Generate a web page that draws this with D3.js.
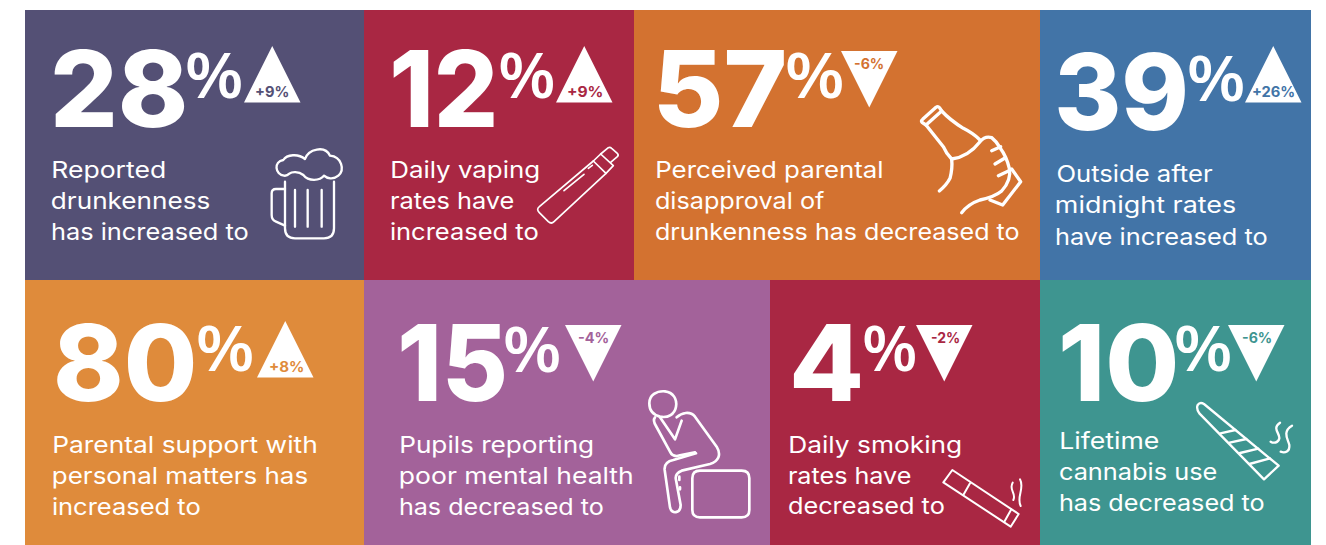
<!DOCTYPE html>
<html>
<head>
<meta charset="utf-8">
<script src="https://cdn.jsdelivr.net/npm/d3@7"></script>
<style>
  html, body { margin: 0; padding: 0; background: #fff; }
  svg { display: block; }
</style>
</head>
<body>
<div id="chart"></div>
<script>
// Values
var rates = [28, 12, 57, 39, 80, 15, 4, 10];
var changes = [9, 9, -6, 26, 8, -4, -2, -6];
var captions = [
  ["Reported", "drunkenness", "has increased to"],
  ["Daily vaping", "rates have", "increased to"],
  ["Perceived parental", "disapproval of", "drunkenness has decreased to"],
  ["Outside after", "midnight rates", "have increased to"],
  ["Parental support with", "personal matters has", "increased to"],
  ["Pupils reporting", "poor mental health", "has decreased to"],
  ["Daily smoking", "rates have", "decreased to"],
  ["Lifetime", "cannabis use", "has decreased to"]
];
var panelColors = ["#545075", "#a92743", "#d37230", "#4274a7", "#df8b3b", "#a3629a", "#a92743", "#3e9590"];

// Layout: each text is fitted to the ink extent measured on the reference
var rowTops = [10, 280, 545];
var rowEdges = [[25, 364, 634, 1040, 1311], [25, 364, 770, 1040, 1311]];
var numberBoxes = [[54, 185, 127], [393, 494, 127], [659, 784, 127], [1058, 1185, 130], [57, 194, 401], [401, 504, 401], [793, 860, 401], [1062, 1176, 401]];
var percentBoxes = [[187, 241, 98], [500, 553, 98], [787, 842, 98], [1189, 1243, 101], [198, 252, 371], [505, 559, 372], [864, 915, 371], [1176, 1230, 371]];
var triangleBoxes = [[244, 46], [556, 46], [841, 51], [1245, 46], [257, 321], [565, 325], [916, 325], [1228, 325]];
var changeBoxes = [[256, 288, 97], [568, 602, 97], [854, 883, 69], [1253, 1294, 97], [270, 303, 372], [578, 608, 343], [931, 959, 343], [1242, 1271, 343]];
var captionLeft = [52, 391, 656, 1056, 53, 400, 789, 1060];
var captionRight = [
  [165, 209, 248], [539, 514, 538], [882, 825, 1019], [1213, 1235, 1267],
  [316, 307, 200], [593, 632, 603], [961, 911, 944], [1159, 1217, 1264]
];
var captionBase = [
  [178, 209, 240], [178, 209, 240], [178, 209, 240], [182, 213, 245],
  [453, 484, 515], [453, 484, 515], [453, 484, 514], [449, 480, 511]
];
var triangleSize = 56.5;

var width = 1326, height = 545;
var svg = d3.select("#chart").append("svg").attr("width", width).attr("height", height);
var color = d3.scaleOrdinal(d3.range(rates.length), panelColors);
var ctx = document.createElement("canvas").getContext("2d");

// Place a text so its ink runs from left to right on the given baseline
function fitText(parent, text, font, left, right, base, fill) {
  ctx.font = font.weight + " " + font.size + "px '" + font.family + "'";
  var m = ctx.measureText(text),
      ink = m.actualBoundingBoxLeft + m.actualBoundingBoxRight,
      sx = (right - left) / ink;
  parent.append("text")
    .attr("transform", "translate(" + (left + m.actualBoundingBoxLeft * sx) + "," + base + ") scale(" + sx + ",1)")
    .attr("font-family", font.family)
    .attr("font-weight", font.weight)
    .attr("font-size", font.size)
    .attr("fill", fill)
    .text(text);
}

var tile = svg.selectAll("g.tile").data(rates).enter().append("g").attr("class", "tile");

tile.append("rect")
  .attr("x", function(d, i) { var r = i < 4 ? 0 : 1; return rowEdges[r][i % 4]; })
  .attr("y", function(d, i) { return rowTops[i < 4 ? 0 : 1]; })
  .attr("width", function(d, i) { var r = i < 4 ? 0 : 1; return rowEdges[r][i % 4 + 1] - rowEdges[r][i % 4]; })
  .attr("height", function(d, i) { var r = i < 4 ? 0 : 1; return rowTops[r + 1] - rowTops[r]; })
  .attr("fill", function(d, i) { return color(i); });

var triLine = d3.line();

tile.each(function(rate, i) {
  var g = d3.select(this), change = changes[i];

  fitText(g, String(rate), {family: "Inter", weight: 800, size: 106}, numberBoxes[i][0], numberBoxes[i][1], numberBoxes[i][2], "#fff");
  fitText(g, "%", {family: "Open Sans", weight: 600, size: 63}, percentBoxes[i][0], percentBoxes[i][1], percentBoxes[i][2], "#fff");

  // triangle points up for a rise, down for a fall
  var tx = d3.scaleLinear().domain([0, 1]).range([triangleBoxes[i][0], triangleBoxes[i][0] + triangleSize]);
  var ty = d3.scaleLinear().domain([0, 1]).range([triangleBoxes[i][1], triangleBoxes[i][1] + triangleSize]);
  var pts = change > 0 ? [[0, 1], [0.5, 0], [1, 1]] : [[0, 0], [1, 0], [0.5, 1]];
  g.append("path")
    .attr("d", triLine(pts.map(function(p) { return [tx(p[0]), ty(p[1])]; })) + "Z")
    .attr("fill", "#fff");

  fitText(g, (change > 0 ? "+" : "") + change + "%", {family: "Inter", weight: 700, size: 14}, changeBoxes[i][0], changeBoxes[i][1], changeBoxes[i][2], color(i));

  captions[i].forEach(function(line, j) {
    // capitals measure a little wider on the left than they draw
    var nudge = /^[A-Z]/.test(line) ? 1.5 : 0;
    fitText(g, line, {family: "Inter", weight: 400, size: 23}, captionLeft[i] + nudge, captionRight[i][j], captionBase[i][j], "#fff");
  });
});

// Pictograms, traced in the 3x crop coordinates
var icons = [
  {x: 20, y: 5, w: 7, d: [
    "M792 512C765 508 760 470 790 465C800 448 835 445 855 462C865 432 915 420 930 452C965 455 975 495 955 512C940 525 920 520 912 512C900 528 865 530 850 510C835 498 815 500 808 506C802 512 798 513 792 512Z",
    "M795 530V670Q795 700 825 700H912Q942 700 942 670V530",
    "M795 552H768Q755 552 755 565V630Q755 645 768 650L795 662",
    "M825 555V665M863 555V665M905 555V665"
  ]},
  {x: 360, y: 5, w: 5, d: [
    "M538 605L700 468L738 505L582 650Q574 658 565 650L538 623Q528 613 538 605Z",
    "M700 468L722 447L760 482L738 505",
    "M722 447L745 428Q750 425 755 430L772 445Q777 450 772 455L752 472",
    "M612 557L672 508M685 490L697 481"
  ]},
  {x: 630, y: 5, w: 10, d: [
    "M878 343L918 307Q925 302 930 310L935 318L888 360L876 352Q872 347 878 343Z",
    "M888 360L940 425Q948 445 965 462",
    "M935 318Q960 345 1000 370Q1030 385 1050 405",
    "M965 462Q1015 455 1050 410Q1065 392 1085 398Q1100 410 1110 428Q1130 455 1138 490Q1145 525 1115 558Q1095 575 1050 585Q1015 597 995 623",
    "M1085 437L1112 425M1095 477L1125 459M1105 512L1137 497",
    "M1145 492L1172 530L1118 600L1080 585",
    "M965 462Q968 490 960 520Q950 540 928 558"
  ]},
  {x: 360, y: 280, w: 8, d: [
    "M868 370C868 345 890 332 915 334C940 337 952 358 948 380C944 402 925 415 900 410C880 405 868 392 868 370Z",
    "M885 412C880 418 882 428 888 438L930 515C936 528 948 530 960 526L1005 517",
    "M950 412C965 398 990 392 1005 410L1070 500C1085 525 1075 545 1050 552L965 572C950 578 945 588 948 600L962 675C962 700 935 705 930 682L914 570C912 550 925 543 940 540L1008 520",
    "M900 412L945 478L965 422",
    "M958 590V600M960 622V628",
    "M1020 572H1145Q1168 572 1168 595V690Q1168 712 1145 712H1020Q997 712 997 690V595Q997 572 1020 572Z"
  ]},
  {x: 770, y: 300, w: 6, d: [
    "M547 510L520 547L722 680L746 642Z",
    "M600 550L580 585M724 628L703 665",
    "M728 548C715 570 740 580 730 600M750 538C765 565 738 590 752 618"
  ]},
  {x: 1040, y: 300, w: 7, d: [
    "M478 340Q468 325 473 315Q480 305 492 312L716 497L672 538Z",
    "M541 400L586 390M569 428L619 417M600 459L655 446M628 492L690 475",
    "M720 368C695 385 720 400 718 415C715 430 700 430 692 425",
    "M756 377C725 395 745 420 748 435C750 455 735 460 722 455"
  ]}
];

var icon = svg.selectAll("g.icon").data(icons).enter().append("g")
  .attr("class", "icon")
  .attr("transform", function(d) { return "translate(" + d.x + "," + d.y + ") scale(" + (1 / 3) + ")"; })
  .attr("fill", "none")
  .attr("stroke", "#fff")
  .attr("stroke-linecap", "round")
  .attr("stroke-linejoin", "round")
  .attr("stroke-width", function(d) { return d.w; });

icon.selectAll("path").data(function(d) { return d.d; }).enter().append("path")
  .attr("d", function(d) { return d; });
</script>
</body>
</html>
